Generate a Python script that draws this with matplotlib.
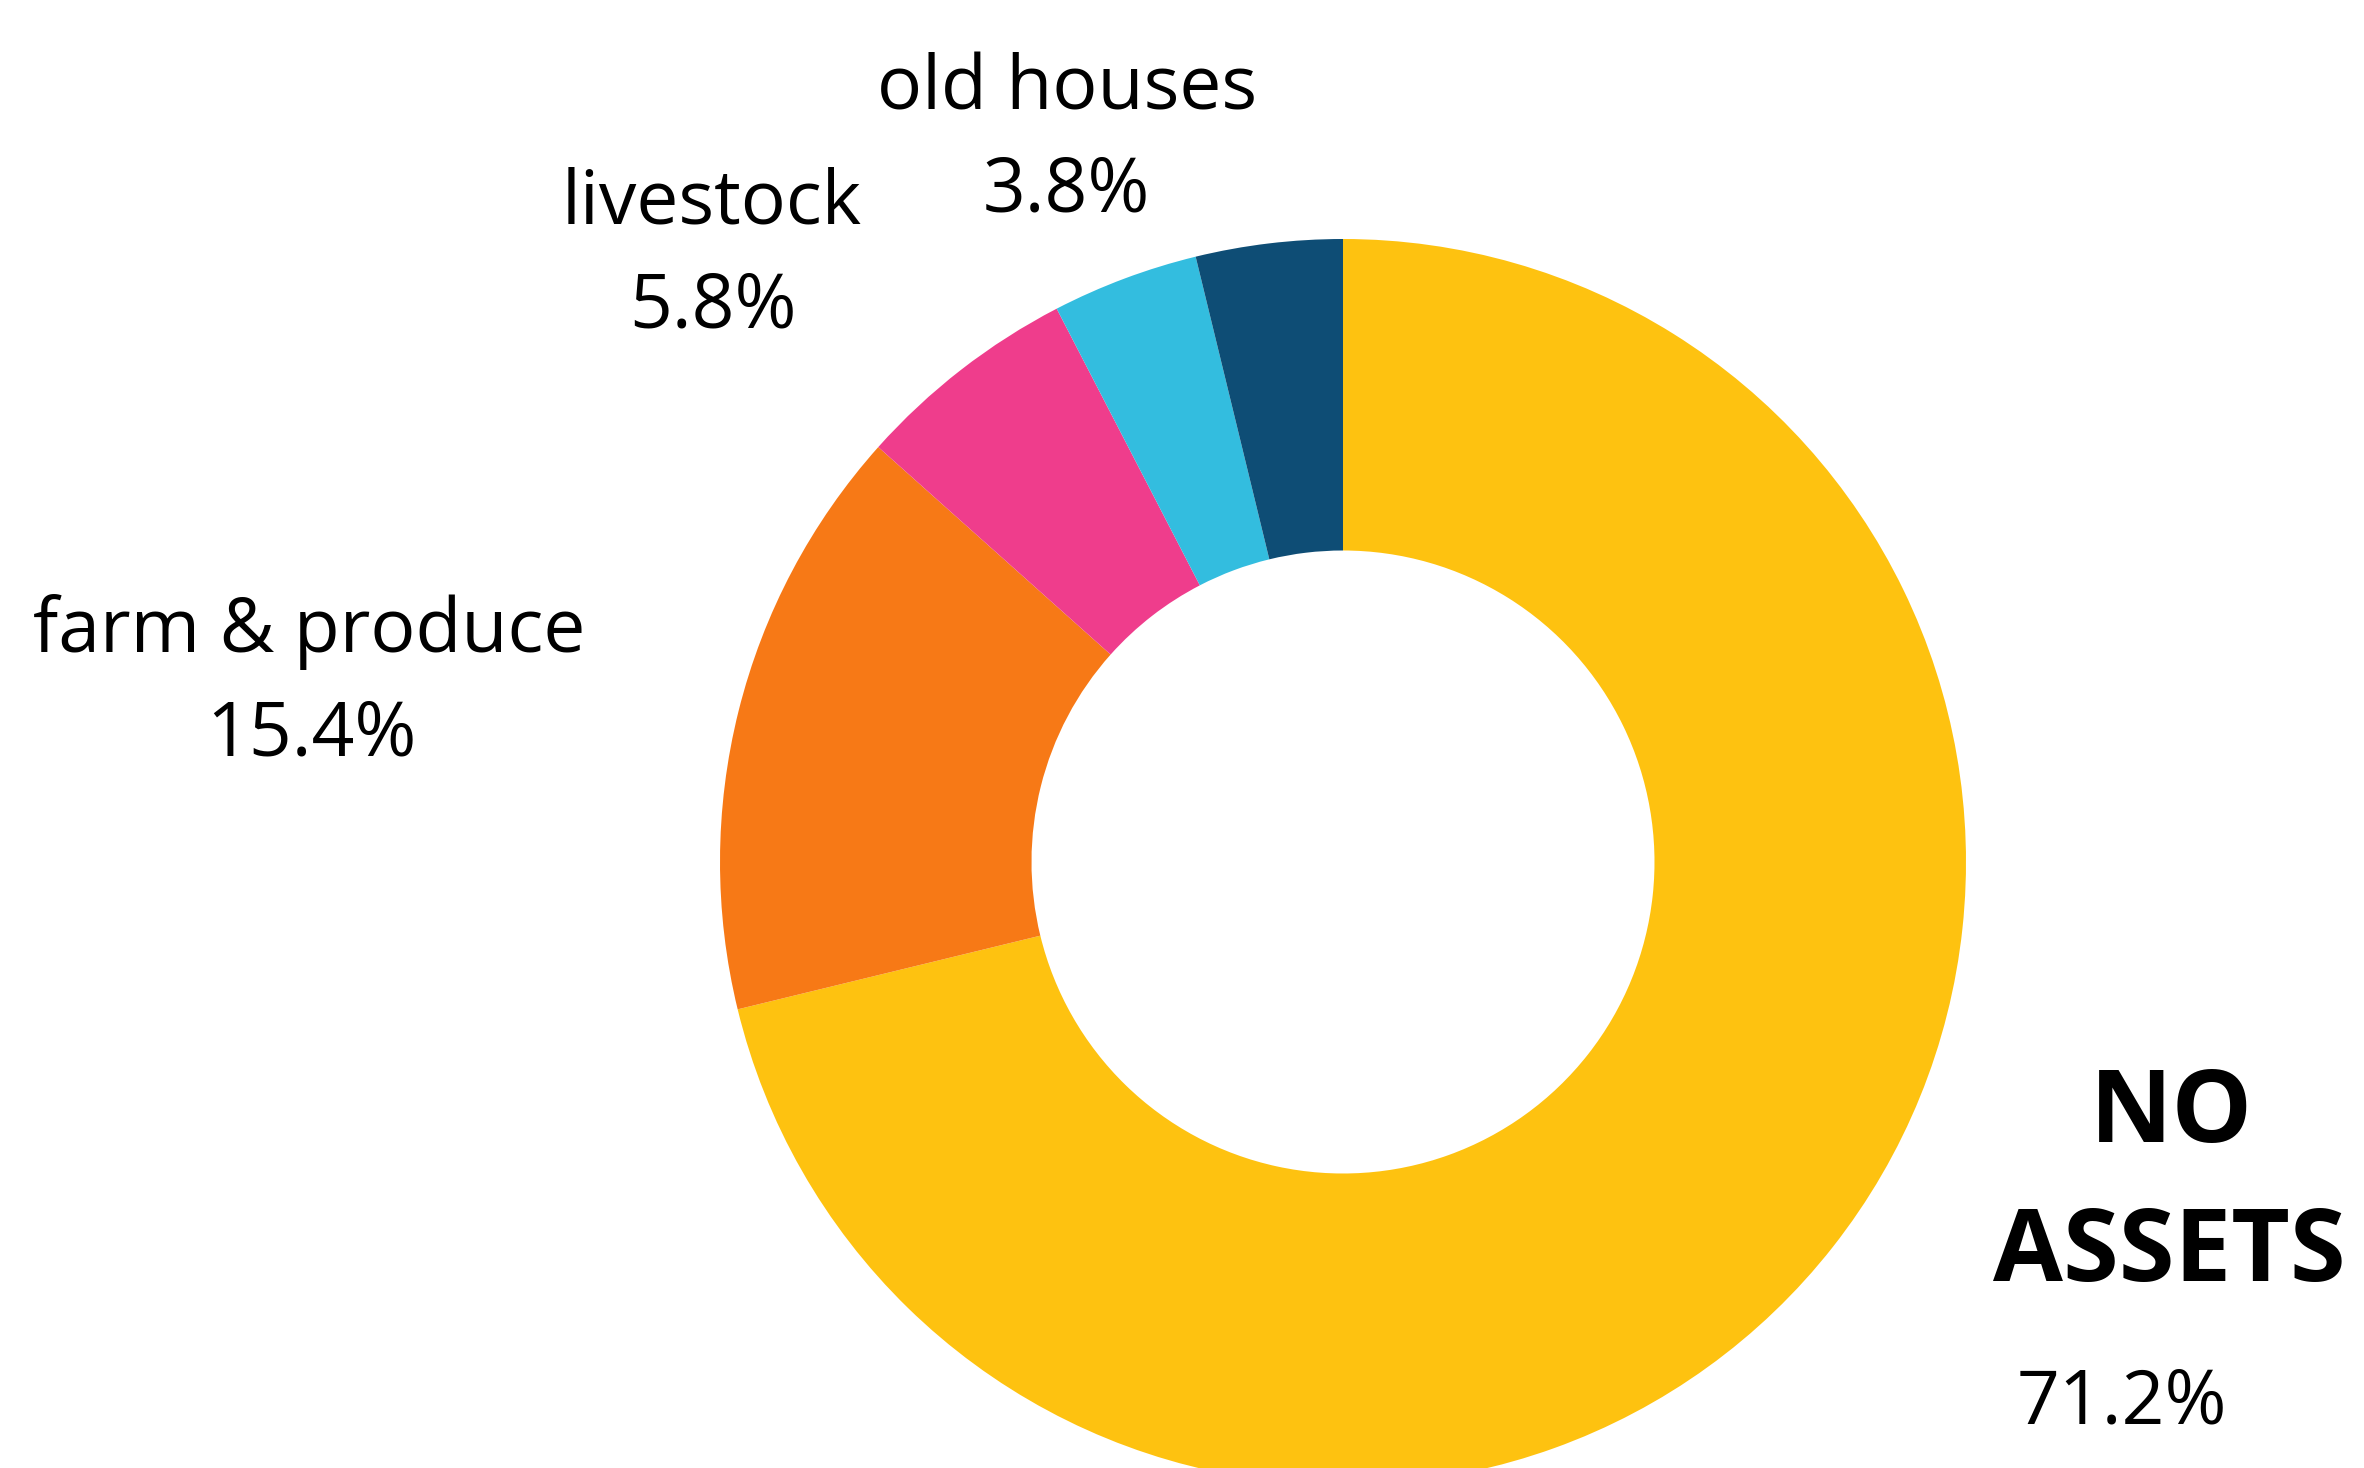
import matplotlib
matplotlib.use('Agg')
import matplotlib.pyplot as plt

# dados do gráfico (sentido horário a partir do topo)
categorias = ['NO ASSETS', 'farm & produce', 'livestock', '', 'old houses']
valores = [71.2, 15.4, 5.8, 3.8, 3.8]
cores = ['#FEC210', '#F77916', '#EF3D8C', '#33BDDF', '#0E4D75']

plt.rcParams['font.family'] = ['Open Sans', 'DejaVu Sans']

W, H = 2364, 1468
fig = plt.figure(figsize=(W / 100, H / 100), dpi=100)

# eixo cobre a figura toda; 1 unidade = raio externo (623 px)
R = 623
cx, cy = 1343, 862
ax = fig.add_axes([0, 0, 1, 1])
ax.pie(valores, colors=cores, startangle=90, counterclock=False,
       radius=1, wedgeprops=dict(width=0.5, edgecolor='none', linewidth=0))
ax.set_xlim(-cx / R, (W - cx) / R)
ax.set_ylim(-(H - cy) / R, cy / R)
ax.set_aspect('equal')
ax.axis('off')


def rotulo(px, py, txt, **kw):
    # posiciona o texto em pixels da imagem (origem no canto superior esquerdo)
    fig.text(px / W, 1 - py / H, txt, ha='center', va='baseline', **kw)


# rótulos das fatias pequenas
rotulo(1067, 109, categorias[4], fontsize=54)
rotulo(1066, 212, f'{valores[4]}%', fontsize=54)
rotulo(712, 224, categorias[2], fontsize=54)
rotulo(713, 327, f'{valores[2]}%', fontsize=54)
rotulo(309, 652, categorias[1], fontsize=54)
rotulo(311, 755, f'{valores[1]}%', fontsize=54)

# rótulo principal em negrito
rotulo(2171, 1142, 'NO', fontsize=73, fontweight='bold')
rotulo(2169, 1281, 'ASSETS', fontsize=73, fontweight='bold')
rotulo(2122, 1423, f'{valores[0]}%', fontsize=54)

fig.savefig('out.png', dpi=100)
